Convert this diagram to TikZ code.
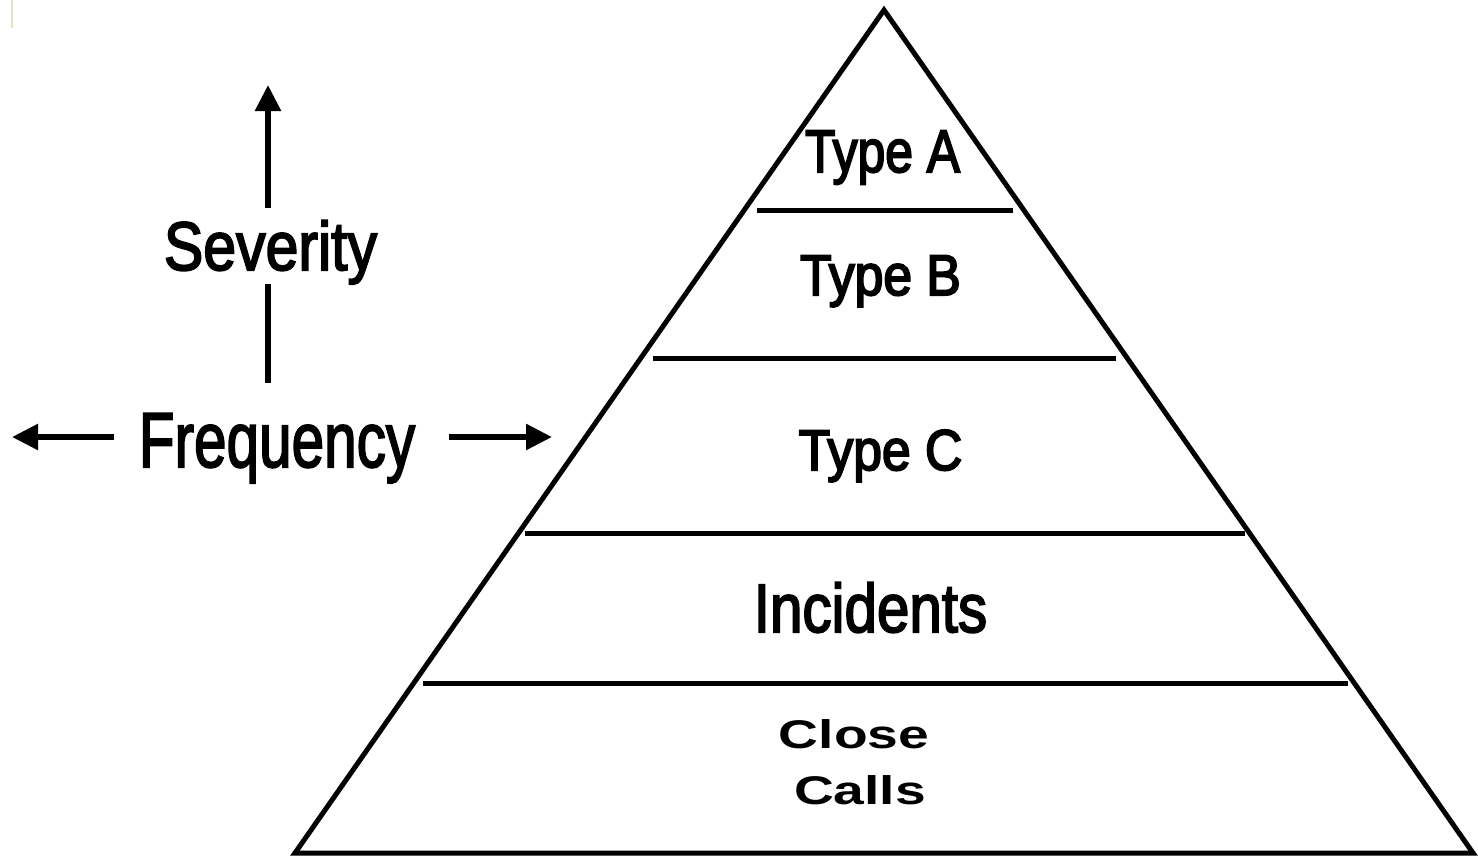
\documentclass[tikz,border=0pt]{standalone}
\usepackage{fontspec}
\setmainfont{Liberation Sans}
\usetikzlibrary{arrows.meta}
\newcommand{\emb}[1]{\special{pdf:literal direct 2 Tr 1.0 w}#1\special{pdf:literal direct 0 Tr}}
\newcommand{\lab}[3]{\fontsize{#1}{#1}\selectfont\scalebox{#2}[1]{\emb{#3}}}
\newcommand{\labb}[3]{\fontsize{#1}{#1}\selectfont\bfseries\scalebox{#2}[1]{#3}}
\begin{document}
\begin{tikzpicture}[x=0.5pt,y=-0.5pt,
  lbl/.style={inner sep=0pt, anchor=base},
  edge/.style={line width=2.5pt, line join=miter},
  arr/.style={line width=2.75pt, -{Triangle[length=13pt,width=12.5pt]}}]
\useasboundingbox (0,0) rectangle (1478,857);
% faint mark at top left
\fill[color={rgb,255:red,228;green,228;blue,190}] (11,0) rectangle (13,28);
% pyramid
\draw[edge] (884,10) -- (1473,853) -- (295,853) -- cycle;
\draw[edge] (757,210) -- (1013,210);
\draw[edge] (653,358) -- (1116,358);
\draw[edge] (525,533) -- (1245,533);
\draw[edge] (423,683) -- (1348,683);
% labels
\node[lbl] (ta) at (882.5,172) {\lab{30pt}{0.83}{Type A}};
\node[lbl] (tb) at (880.5,295) {\lab{28.7pt}{0.90}{Type B}};
\node[lbl] (tc) at (880.5,470) {\lab{28.7pt}{0.90}{Type C}};
\node[lbl] (inc) at (870.5,632) {\lab{34.3pt}{0.85}{Incidents}};
\node[lbl] (close) at (854,748) {\labb{20pt}{1.38}{Close}};
\node[lbl] (calls) at (860,804) {\labb{20pt}{1.38}{Calls}};
\node[lbl] (sev) at (270.5,270) {\lab{34.3pt}{0.86}{Severity}};
\node[lbl] (freq) at (277,467) {\lab{39pt}{0.75}{Frequency}};
% severity axis
\coordinate (sevbot) at (268,383);
\coordinate (sevlow) at (268,284);
\coordinate (sevup) at (268,208);
\coordinate (sevtip) at (268,85);
\draw[line width=2.75pt] (sevbot) -- (sevlow);
\draw[arr] (sevup) -- (sevtip);
% frequency axis
\coordinate (fl0) at (114,437);
\coordinate (fl1) at (12,437);
\coordinate (fr0) at (449,437);
\coordinate (fr1) at (552,437);
\draw[arr] (fl0) -- (fl1);
\draw[arr] (fr0) -- (fr1);
\end{tikzpicture}
\end{document}
